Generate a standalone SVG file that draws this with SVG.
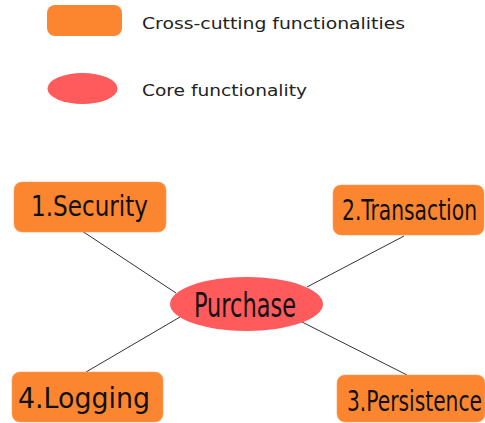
<svg xmlns="http://www.w3.org/2000/svg" width="485" height="423" viewBox="0 0 485 423">
<style>
.box{fill:#FC8630;stroke:#F5A060;stroke-width:0.6}
.core{fill:#FF5A5C}
.lg{font-family:"DejaVu Sans",Verdana,sans-serif;font-size:16px;fill:#222}
.nt{font-family:"DejaVu Sans Condensed","DejaVu Sans",sans-serif;fill:#111}
.conn line{stroke:#333;stroke-width:1}
</style>
<rect width="485" height="423" fill="#fff"/>
<g id="legend">
<rect x="47" y="5" width="75" height="31" rx="8" fill="#FC8630"/>
<text class="lg" x="142" y="29" textLength="263" lengthAdjust="spacingAndGlyphs">Cross-cutting functionalities</text>
<ellipse cx="82.5" cy="88.5" rx="35" ry="15.5" fill="#FF5A5C"/>
<text class="lg" x="142" y="96" textLength="165" lengthAdjust="spacingAndGlyphs">Core functionality</text>
</g>
<g class="conn" id="connectors">
<line x1="82" y1="231" x2="176" y2="293"/>
<line x1="404" y1="236" x2="307" y2="287"/>
<line x1="86" y1="372" x2="180" y2="317"/>
<line x1="407" y1="375" x2="302" y2="322"/>
</g>
<g id="security">
<rect class="box" x="14" y="182" width="152" height="50" rx="8"/>
<text class="nt" x="31" y="216" font-size="28" textLength="117" lengthAdjust="spacingAndGlyphs">1.Security</text>
</g>
<g id="transaction">
<rect class="box" x="333" y="185" width="151" height="50" rx="8"/>
<text class="nt" x="342" y="220" font-size="29" textLength="135" lengthAdjust="spacingAndGlyphs">2.Transaction</text>
</g>
<g id="purchase">
<ellipse class="core" cx="246.5" cy="304" rx="76.5" ry="27"/>
<text class="nt" x="194" y="317" font-size="33" textLength="102" lengthAdjust="spacingAndGlyphs">Purchase</text>
</g>
<g id="logging">
<rect class="box" x="12" y="372" width="151" height="50" rx="8"/>
<text class="nt" x="18" y="408" font-size="29" textLength="132" lengthAdjust="spacingAndGlyphs">4.Logging</text>
</g>
<g id="persistence">
<rect class="box" x="337" y="375" width="148" height="47" rx="8"/>
<text class="nt" x="347" y="411" font-size="29" textLength="135" lengthAdjust="spacingAndGlyphs">3.Persistence</text>
</g>
</svg>
